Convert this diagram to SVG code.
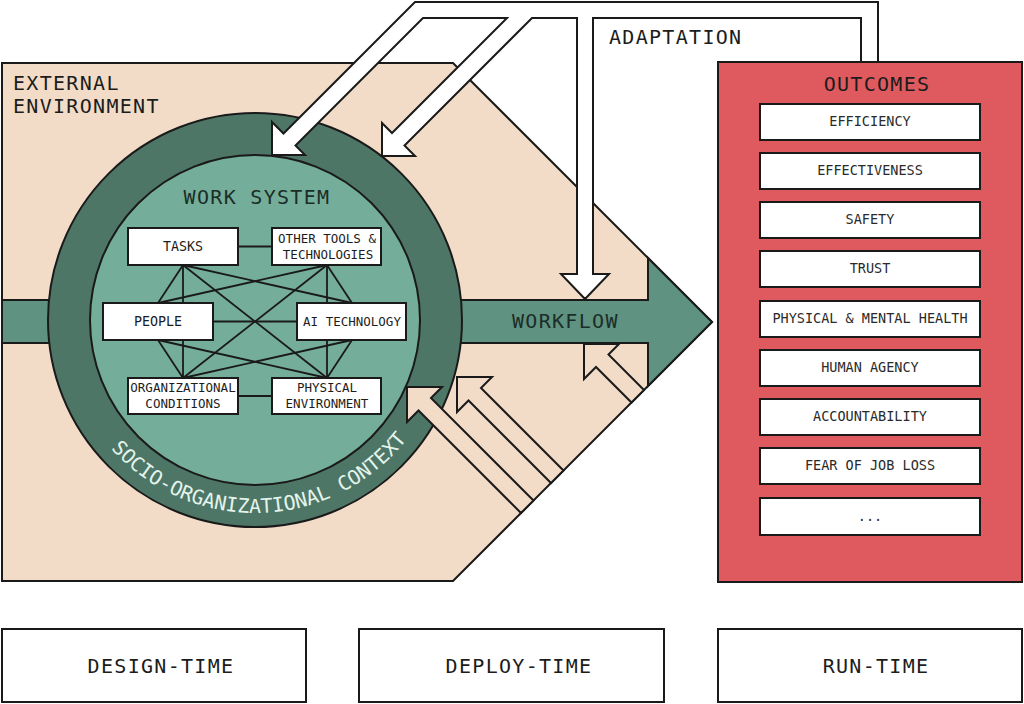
<svg xmlns="http://www.w3.org/2000/svg" width="1024" height="704" viewBox="0 0 1024 704">
<style>
text{font-family:"DejaVu Sans Mono","Liberation Mono",monospace;fill:#1c1c1c}
.s{stroke:#1a1a1a;stroke-width:2;stroke-linejoin:miter}
.box{fill:#ffffff;stroke:#1a1a1a;stroke-width:2}
.ln{stroke:#1a1a1a;stroke-width:1.8;fill:none}
.bt{font-size:12.5px;text-anchor:middle}
.ot{font-size:13.5px;text-anchor:middle;fill:#2a2a2a}
.big{font-size:20px;letter-spacing:1.3px}
.mid{text-anchor:middle}
</style>
<defs>
<path id="socioArc" d="M 62 320 A 193 193 0 0 0 448 320"/>
</defs>
<rect width="1024" height="704" fill="#ffffff"/>

<g id="external-environment">
<polygon class="s" points="2,63 453,63 712,322 453,581 2,581" fill="#f2dcc8"/>
<text class="big" x="13" y="90">EXTERNAL</text>
<text class="big" x="13" y="113">ENVIRONMENT</text>
</g>

<g id="workflow">
<polygon class="s" points="2,300 648,300 648,258 712,322 648,386 648,343 2,343" fill="#5f9281"/>
<text class="big" x="512" y="328" style="fill:#1b2d27">WORKFLOW</text>
</g>

<g id="socio-organizational-context">
<circle class="s" cx="255" cy="320" r="207" fill="#4e7666"/>
<text style="font-size:20px;fill:#e3f4ec"><textPath href="#socioArc" startOffset="51%" text-anchor="middle">SOCIO-ORGANIZATIONAL CONTEXT</textPath></text>
</g>

<g id="work-system">
<circle class="s" cx="255" cy="320" r="165" fill="#74ae9a"/>
<text class="big mid" x="257" y="204" style="fill:#1b2d27">WORK SYSTEM</text>
</g>

<g id="connectors">
<line class="ln" x1="238" y1="246.5" x2="272" y2="246.5"/>
<line class="ln" x1="213" y1="321.5" x2="297" y2="321.5"/>
<line class="ln" x1="238" y1="396" x2="272" y2="396"/>
<line class="ln" x1="183" y1="265" x2="158" y2="303"/>
<line class="ln" x1="183" y1="265" x2="183" y2="378"/>
<line class="ln" x1="183" y1="265" x2="327" y2="378"/>
<line class="ln" x1="183" y1="265" x2="352" y2="303"/>
<line class="ln" x1="327" y1="265" x2="352" y2="303"/>
<line class="ln" x1="327" y1="265" x2="327" y2="378"/>
<line class="ln" x1="327" y1="265" x2="183" y2="378"/>
<line class="ln" x1="327" y1="265" x2="158" y2="303"/>
<line class="ln" x1="158" y1="340" x2="183" y2="378"/>
<line class="ln" x1="158" y1="340" x2="327" y2="378"/>
<line class="ln" x1="352" y1="340" x2="327" y2="378"/>
<line class="ln" x1="352" y1="340" x2="183" y2="378"/>
</g>

<g id="tasks">
<rect class="box" x="128" y="228" width="110" height="37"/>
<text class="bt" x="183" y="251" style="font-size:13.3px">TASKS</text>
</g>
<g id="other-tools">
<rect class="box" x="272" y="228" width="109" height="37"/>
<text class="bt" x="327" y="243">OTHER TOOLS &amp;</text>
<text class="bt" x="328" y="259">TECHNOLOGIES</text>
</g>
<g id="people">
<rect class="box" x="103" y="303" width="110" height="37"/>
<text class="bt" x="158" y="326" style="font-size:13.3px">PEOPLE</text>
</g>
<g id="ai-technology">
<rect class="box" x="297" y="303" width="109" height="37"/>
<text class="bt" x="352" y="326">AI TECHNOLOGY</text>
</g>
<g id="organizational-conditions">
<rect class="box" x="128" y="378" width="110" height="36"/>
<text class="bt" x="183" y="392">ORGANIZATIONAL</text>
<text class="bt" x="183" y="408">CONDITIONS</text>
</g>
<g id="physical-environment">
<rect class="box" x="272" y="378" width="109" height="36"/>
<text class="bt" x="327" y="392">PHYSICAL</text>
<text class="bt" x="327" y="408">ENVIRONMENT</text>
</g>

<g id="adaptation">
<polygon class="s" fill="#ffffff" points="878,62 878,2 415,2 283.5,133.5 272,122 272,155 305,155 295.5,145.5 423,18 507,18 392,133 382,123 382,156 415,156 404.5,145.5 532,18 577,18 577,274 561,274 585,299 609,274 593,274 593,18 861,18 861,62"/>
<text class="big" x="609" y="44">ADAPTATION</text>
</g>

<g id="feedback-arrows">
<polygon class="s" fill="#f2dcc8" points="407,387 442,387 431,398 533.5,500.5 521,513 418.5,410.5 407,422"/>
<polygon class="s" fill="#f2dcc8" points="457,377 492,377 481,388 563.5,470.5 551,483 468.5,400.5 457,412"/>
<polygon class="s" fill="#f2dcc8" points="584,344 619,344 608.5,354.5 644,390 631.5,402.5 596,367 584,379"/>
</g>

<g id="outcomes">
<rect class="s" x="718" y="62" width="304" height="520" fill="#df5a5e"/>
<text class="big mid" x="877" y="91">OUTCOMES</text>
<rect class="box" x="760" y="104" width="220" height="36"/><text class="ot" x="870" y="126">EFFICIENCY</text>
<rect class="box" x="760" y="153" width="220" height="36"/><text class="ot" x="870" y="175">EFFECTIVENESS</text>
<rect class="box" x="760" y="202" width="220" height="36"/><text class="ot" x="870" y="224">SAFETY</text>
<rect class="box" x="760" y="251" width="220" height="36"/><text class="ot" x="870" y="273">TRUST</text>
<rect class="box" x="760" y="301" width="220" height="36"/><text class="ot" x="870" y="323">PHYSICAL &amp; MENTAL HEALTH</text>
<rect class="box" x="760" y="350" width="220" height="36"/><text class="ot" x="870" y="372">HUMAN AGENCY</text>
<rect class="box" x="760" y="399" width="220" height="36"/><text class="ot" x="870" y="421">ACCOUNTABILITY</text>
<rect class="box" x="760" y="448" width="220" height="36"/><text class="ot" x="870" y="470">FEAR OF JOB LOSS</text>
<rect class="box" x="760" y="498" width="220" height="37"/><text class="ot" x="870" y="521">...</text>
</g>

<g id="design-time">
<rect class="box" x="2" y="629" width="304" height="73"/>
<text class="big mid" x="161" y="673">DESIGN-TIME</text>
</g>
<g id="deploy-time">
<rect class="box" x="359" y="629" width="305" height="73"/>
<text class="big mid" x="519" y="673">DEPLOY-TIME</text>
</g>
<g id="run-time">
<rect class="box" x="718" y="629" width="304" height="73"/>
<text class="big mid" x="876" y="673">RUN-TIME</text>
</g>
</svg>
